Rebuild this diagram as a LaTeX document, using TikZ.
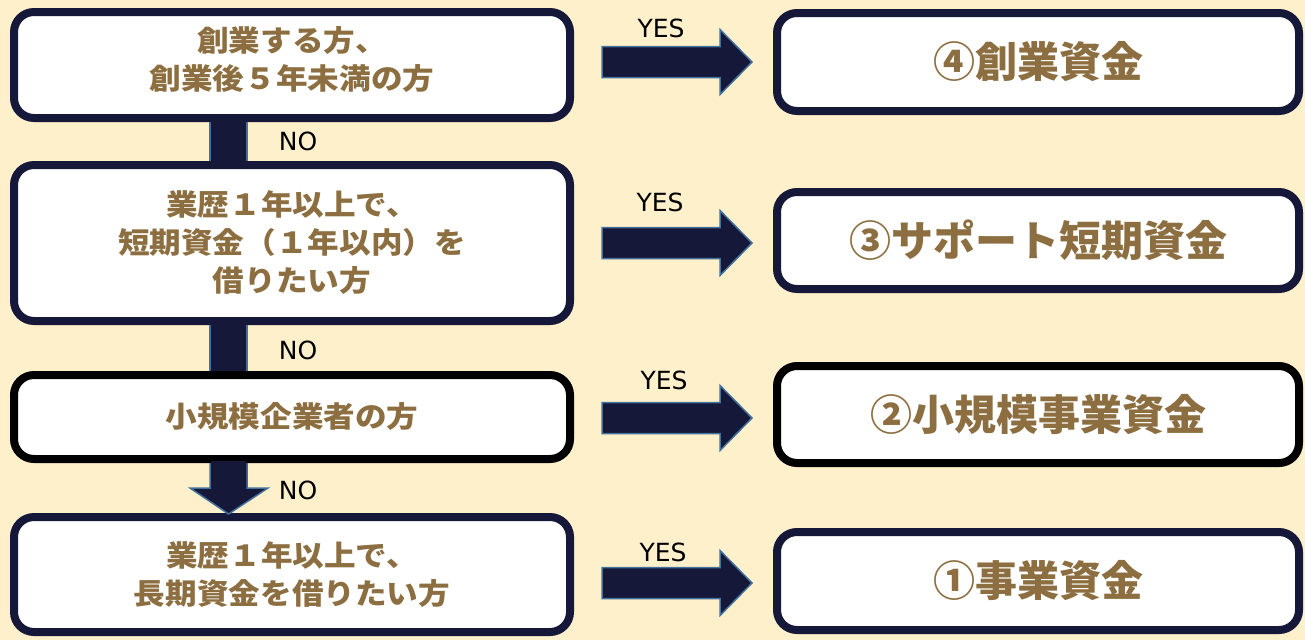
\documentclass[tikz,border=0pt]{standalone}
\usepackage{fontspec}
\newfontfamily\jp{Noto Sans CJK JP}
\newfontfamily\jpw{Noto Sans CJK JP}[FakeStretch=1.09]
\newfontfamily\lat{DejaVu Sans}
\usetikzlibrary{calc}
\definecolor{bgc}{HTML}{FFF0CC}
\definecolor{navy}{HTML}{151838}
\definecolor{steel}{HTML}{41719C}
\definecolor{gold}{HTML}{8C6E40}
\tikzset{
  lbox/.style={draw=navy, fill=white, line width=8pt, rounded corners=20pt,
    minimum width=556pt, align=center, inner sep=0pt,
    font=\jpw\bfseries\fontsize{29}{38}\selectfont, text=gold},
  ltxt/.style={align=center, inner sep=0pt,
    font=\jpw\bfseries\fontsize{29}{38}\selectfont, text=gold},
  rbox/.style={draw=navy, fill=white, line width=8pt, rounded corners=20pt,
    minimum width=522pt, minimum height=97pt, inner sep=0pt,
    font=\jp\bfseries\fontsize{42}{48}\selectfont, text=gold},
  arr/.style={fill=navy, draw=steel, line width=1.5pt},
  conn/.style={fill=navy},
  connside/.style={draw=steel, line width=1.5pt},
  yn/.style={font=\lat\fontsize{25}{30}\selectfont, text=black, inner sep=0pt}
}
\begin{document}
\begin{tikzpicture}[x=1pt,y=-1pt]
\fill[bgc] (0,0) rectangle (1305,640);
\useasboundingbox (0,0) rectangle (1305,640);

% left boxes
\node[lbox, minimum height=106pt] (L1) at (292,65) {};
\node[ltxt] (L1t) at ($(L1.center)+(0,-5)$) {創業する方、\\創業後５年未満の方};
\node[lbox, minimum height=156pt] (L2) at (292,243) {業歴１年以上で、\\短期資金（１年以内）を\\借りたい方};
\node[lbox, draw=black, minimum height=84pt] (L3) at (292,417) {小規模企業者の方};
\node[lbox, minimum height=115pt] (L4) at (292,574.5) {業歴１年以上で、\\長期資金を借りたい方};

% right boxes
\node[rbox, minimum height=98pt] (R1) at (1038,62) {④創業資金};
\node[rbox] (R2) at (1038,240.5) {③サポート短期資金};
\node[rbox, draw=black] (R3) at (1038,414.5) {②小規模事業資金};
\node[rbox, minimum height=98pt] (R4) at (1038,581) {①事業資金};

% vertical connectors
\fill[conn] ($(L1.south)+(-82,0)$) rectangle ($(L2.north)+(-45,0)$);
\draw[connside] ($(L1.south)+(-82,0)$) -- ($(L2.north)+(-82,0)$);
\draw[connside] ($(L1.south)+(-45,0)$) -- ($(L2.north)+(-45,0)$);
\fill[conn] ($(L2.south)+(-82,0)$) rectangle ($(L3.north)+(-45,0)$);
\draw[connside] ($(L2.south)+(-82,0)$) -- ($(L3.north)+(-82,0)$);
\draw[connside] ($(L2.south)+(-45,0)$) -- ($(L3.north)+(-45,0)$);
\coordinate (d3) at ($(L4.north)+(-63.5,1)$);
\filldraw[arr] ($(L3.south)+(-82,0)$) -- ++(0,25) -- ++(-20,0) -- (d3) -- ($(L3.south)+(-24,25)$) -- ++(-21,0) -- ++(0,-25);
\fill[conn] ($(L3.south)+(-81.2,-2)$) rectangle ($(L3.south)+(-45.8,1)$);

% horizontal YES arrows
\foreach \r/\dy in {R1/0, R2/2.5, R3/3.5, R4/2} {
  \coordinate (t\r) at ($(\r.west)+(-21,\dy)$);
  \filldraw[arr] (t\r) ++(-150,-15.5) -- ++(118,0) -- ++(0,-17) -- (t\r) -- ++(-32,32.5) -- ++(0,-17) -- ++(-118,0) -- cycle;
}

% labels
\node[yn] (y1) at (661,28) {YES};
\node[yn] (y2) at (660,202) {YES};
\node[yn] (y3) at (664,380) {YES};
\node[yn] (y4) at (663,552) {YES};
\node[yn] (n1) at (298,141) {NO};
\node[yn] (n2) at (298,350) {NO};
\node[yn] (n3) at (298,490) {NO};
\end{tikzpicture}
\end{document}
